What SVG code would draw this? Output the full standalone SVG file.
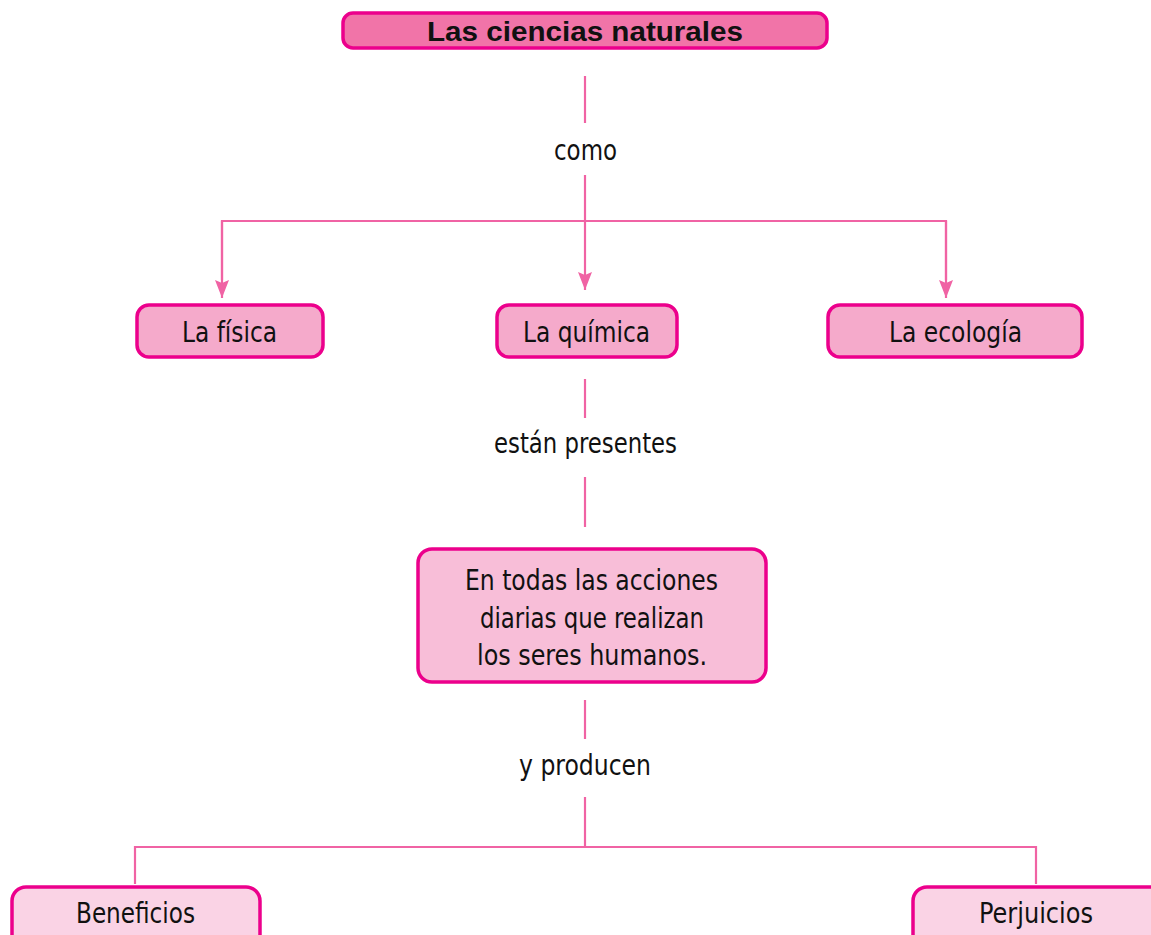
<svg xmlns="http://www.w3.org/2000/svg" width="1151" height="935" viewBox="0 0 1151 935">
<style>
.box{stroke:#ec008c;stroke-width:3.5}
.c1{fill:#f174a8}
.c2{fill:#f5aacb}
.c3{fill:#f8bed8}
.c4{fill:#fad3e5}
.t{font-family:"Liberation Sans Narrow","DejaVu Sans Condensed","Liberation Sans",sans-serif;font-size:27.5px;fill:#111;text-anchor:middle}
.tb{font-family:"Liberation Sans",Arial,sans-serif;font-size:27.5px;font-weight:bold;fill:#111;text-anchor:middle}
.ln{stroke:#f063a4;stroke-width:2.2;fill:none}
</style>
<defs>
<marker id="arr" markerUnits="userSpaceOnUse" markerWidth="18" markerHeight="14" viewBox="0 0 18 14" refX="18" refY="7" orient="auto">
<path d="M0,0 L18,7 L0,14 L3,7 z" fill="#f063a4"/>
</marker>
</defs>
<g id="connectors">
<line class="ln" x1="585" y1="76" x2="585" y2="123"/>
<line class="ln" x1="585" y1="175" x2="585" y2="290" marker-end="url(#arr)"/>
<polyline class="ln" points="222,280 222,221 946,221 946,280"/>
<line class="ln" x1="222" y1="221" x2="222" y2="298" marker-end="url(#arr)"/>
<line class="ln" x1="946" y1="221" x2="946" y2="298" marker-end="url(#arr)"/>
<line class="ln" x1="585" y1="379" x2="585" y2="418"/>
<line class="ln" x1="585" y1="477" x2="585" y2="527"/>
<line class="ln" x1="585" y1="700" x2="585" y2="739"/>
<line class="ln" x1="585" y1="797" x2="585" y2="847"/>
<polyline class="ln" points="135,884 135,847 1036,847 1036,884"/>
<text class="t" x="585.5" y="160" textLength="63" lengthAdjust="spacingAndGlyphs">como</text>
<text class="t" x="585.5" y="453" textLength="183" lengthAdjust="spacingAndGlyphs">están presentes</text>
<text class="t" x="585" y="775" textLength="132" lengthAdjust="spacingAndGlyphs">y producen</text>
</g>
<g id="n-title">
<rect class="box c1" x="343" y="13" width="484" height="35" rx="10"/>
<text class="tb" x="585" y="41" textLength="316" lengthAdjust="spacingAndGlyphs">Las ciencias naturales</text>
</g>
<g id="n-fisica">
<rect class="box c2" x="137" y="305" width="186" height="52" rx="12"/>
<text class="t" x="229.5" y="342" textLength="95" lengthAdjust="spacingAndGlyphs">La física</text>
</g>
<g id="n-quimica">
<rect class="box c2" x="497" y="305" width="180" height="52" rx="12"/>
<text class="t" x="586.5" y="342" textLength="127" lengthAdjust="spacingAndGlyphs">La química</text>
</g>
<g id="n-ecologia">
<rect class="box c2" x="828" y="305" width="254" height="52" rx="12"/>
<text class="t" x="955.5" y="342" textLength="133" lengthAdjust="spacingAndGlyphs">La ecología</text>
</g>
<g id="n-acciones">
<rect class="box c3" x="418" y="549" width="348" height="133" rx="14"/>
<text class="t" x="591.5" y="590" textLength="253" lengthAdjust="spacingAndGlyphs">En todas las acciones</text>
<text class="t" x="592" y="628" textLength="224" lengthAdjust="spacingAndGlyphs">diarias que realizan</text>
<text class="t" x="592" y="665" textLength="230" lengthAdjust="spacingAndGlyphs">los seres humanos.</text>
</g>
<g id="n-beneficios">
<rect class="box c4" x="12" y="887" width="248" height="70" rx="14"/>
<text class="t" x="135.5" y="923" textLength="119" lengthAdjust="spacingAndGlyphs">Beneficios</text>
</g>
<g id="n-perjuicios">
<rect class="box c4" x="913" y="887" width="260" height="70" rx="14"/>
<text class="t" x="1036" y="923" textLength="114" lengthAdjust="spacingAndGlyphs">Perjuicios</text>
</g>
</svg>
